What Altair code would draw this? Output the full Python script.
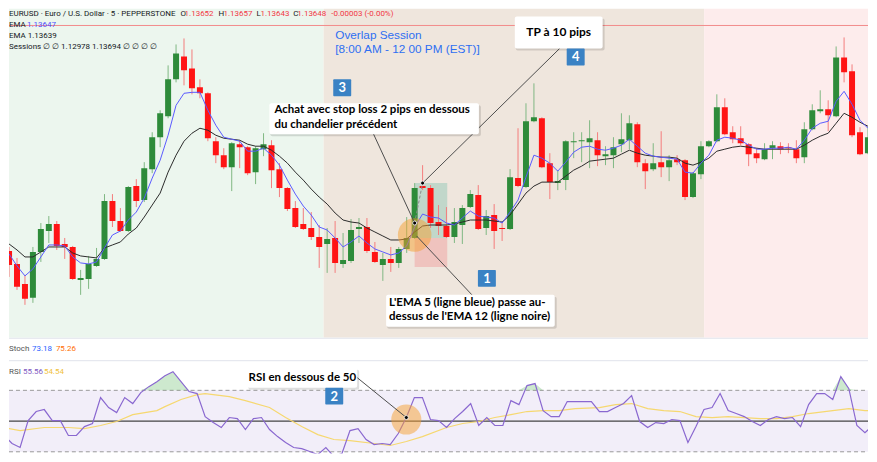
import altair as alt
import pandas as pd

# ---------------- data (EURUSD 5 min) ----------------
open_ = [1.13498, 1.13472, 1.13432, 1.13404, 1.13496, 1.13538, 1.13552, 1.13512, 1.13506, 1.13440,
         1.13442, 1.13468, 1.13482, 1.13598, 1.13558, 1.13538, 1.13628, 1.13600, 1.13662, 1.13726,
         1.13768, 1.13842, 1.13888, 1.13864, 1.13826, 1.13814, 1.13718, 1.13690, 1.13666, 1.13712,
         1.13706, 1.13656, 1.13702, 1.13710, 1.13662, 1.13624, 1.13584, 1.13552, 1.13544, 1.13526,
         1.13512, 1.13524, 1.13472, 1.13478, 1.13542, 1.13546, 1.13496, 1.13470, 1.13482, 1.13474,
         1.13502, 1.13524, 1.13628, 1.13624, 1.13556, 1.13548, 1.13526, 1.13550, 1.13586, 1.13610,
         1.13544, 1.13570, 1.13544, 1.13542, 1.13644, 1.13626, 1.13758, 1.13764, 1.13674, 1.13634,
         1.13640, 1.13716, 1.13718, 1.13716, 1.13720, 1.13688, 1.13690, 1.13712, 1.13720, 1.13752,
         1.13674, 1.13662, 1.13676, 1.13666, 1.13682, 1.13680, 1.13606, 1.13652, 1.13708, 1.13718,
         1.13786, 1.13736, 1.13724, 1.13712, 1.13694, 1.13682, 1.13704, 1.13708, 1.13706, 1.13702,
         1.13686, 1.13742, 1.13778, 1.13782, 1.13768, 1.13886, 1.13858, 1.13736, 1.13694]
high = [1.13506, 1.13484, 1.13450, 1.13506, 1.13554, 1.13568, 1.13558, 1.13524, 1.13508, 1.13460,
        1.13488, 1.13504, 1.13612, 1.13612, 1.13584, 1.13628, 1.13642, 1.13676, 1.13736, 1.13780,
        1.13870, 1.13912, 1.13924, 1.13902, 1.13842, 1.13816, 1.13726, 1.13704, 1.13716, 1.13720,
        1.13708, 1.13708, 1.13734, 1.13720, 1.13674, 1.13626, 1.13598, 1.13584, 1.13576, 1.13550,
        1.13544, 1.13558, 1.13534, 1.13562, 1.13564, 1.13564, 1.13516, 1.13494, 1.13506, 1.13506,
        1.13566, 1.13634, 1.13670, 1.13630, 1.13590, 1.13586, 1.13584, 1.13590, 1.13620, 1.13630,
        1.13580, 1.13592, 1.13556, 1.13662, 1.13744, 1.13794, 1.13834, 1.13766, 1.13694, 1.13660,
        1.13720, 1.13736, 1.13736, 1.13760, 1.13736, 1.13708, 1.13726, 1.13774, 1.13770, 1.13756,
        1.13682, 1.13714, 1.13738, 1.13690, 1.13690, 1.13682, 1.13656, 1.13718, 1.13720, 1.13812,
        1.13804, 1.13748, 1.13748, 1.13714, 1.13704, 1.13714, 1.13718, 1.13716, 1.13714, 1.13720,
        1.13756, 1.13792, 1.13820, 1.13800, 1.13908, 1.13926, 1.13872, 1.13746, 1.13746]
low = [1.13446, 1.13420, 1.13390, 1.13394, 1.13476, 1.13514, 1.13500, 1.13482, 1.13440, 1.13410,
       1.13422, 1.13466, 1.13480, 1.13546, 1.13536, 1.13536, 1.13586, 1.13596, 1.13654, 1.13706,
       1.13764, 1.13836, 1.13830, 1.13812, 1.13804, 1.13718, 1.13674, 1.13662, 1.13618, 1.13664,
       1.13650, 1.13632, 1.13688, 1.13624, 1.13606, 1.13578, 1.13544, 1.13540, 1.13520, 1.13464,
       1.13454, 1.13454, 1.13464, 1.13474, 1.13514, 1.13494, 1.13474, 1.13438, 1.13456, 1.13464,
       1.13494, 1.13522, 1.13620, 1.13544, 1.13530, 1.13524, 1.13514, 1.13512, 1.13584, 1.13540,
       1.13530, 1.13502, 1.13518, 1.13540, 1.13626, 1.13624, 1.13756, 1.13664, 1.13602, 1.13620,
       1.13620, 1.13684, 1.13676, 1.13664, 1.13668, 1.13670, 1.13664, 1.13696, 1.13702, 1.13666,
       1.13622, 1.13658, 1.13646, 1.13638, 1.13670, 1.13600, 1.13604, 1.13642, 1.13706, 1.13716,
       1.13730, 1.13714, 1.13710, 1.13668, 1.13674, 1.13680, 1.13682, 1.13692, 1.13694, 1.13674,
       1.13674, 1.13740, 1.13774, 1.13738, 1.13766, 1.13836, 1.13726, 1.13690, 1.13692]
close = [1.13470, 1.13426, 1.13402, 1.13496, 1.13542, 1.13552, 1.13508, 1.13506, 1.13442, 1.13444,
         1.13472, 1.13482, 1.13598, 1.13558, 1.13538, 1.13626, 1.13598, 1.13664, 1.13726, 1.13774,
         1.13842, 1.13894, 1.13860, 1.13824, 1.13814, 1.13724, 1.13690, 1.13666, 1.13714, 1.13706,
         1.13654, 1.13704, 1.13712, 1.13660, 1.13624, 1.13582, 1.13546, 1.13542, 1.13526, 1.13506,
         1.13522, 1.13474, 1.13480, 1.13540, 1.13546, 1.13498, 1.13476, 1.13482, 1.13474, 1.13502,
         1.13524, 1.13624, 1.13624, 1.13554, 1.13548, 1.13526, 1.13556, 1.13584, 1.13612, 1.13542,
         1.13568, 1.13538, 1.13542, 1.13646, 1.13628, 1.13758, 1.13766, 1.13666, 1.13636, 1.13638,
         1.13718, 1.13718, 1.13720, 1.13724, 1.13690, 1.13692, 1.13706, 1.13722, 1.13754, 1.13676,
         1.13658, 1.13674, 1.13666, 1.13680, 1.13676, 1.13606, 1.13654, 1.13708, 1.13718, 1.13786,
         1.13732, 1.13722, 1.13714, 1.13692, 1.13684, 1.13702, 1.13710, 1.13702, 1.13704, 1.13684,
         1.13742, 1.13780, 1.13782, 1.13770, 1.13886, 1.13856, 1.13730, 1.13692, 1.13726]
ema5 = [1.13492, 1.13468, 1.13448, 1.13462, 1.13486, 1.13510, 1.13510, 1.13508, 1.13486, 1.13474,
        1.13472, 1.13476, 1.13504, 1.13530, 1.13538, 1.13560, 1.13576, 1.13604, 1.13644, 1.13680,
        1.13730, 1.13790, 1.13814, 1.13816, 1.13816, 1.13780, 1.13750, 1.13726, 1.13722, 1.13718,
        1.13698, 1.13698, 1.13704, 1.13690, 1.13670, 1.13640, 1.13612, 1.13588, 1.13570, 1.13546,
        1.13540, 1.13524, 1.13506, 1.13516, 1.13528, 1.13514, 1.13502, 1.13496, 1.13490, 1.13494,
        1.13508, 1.13546, 1.13572, 1.13566, 1.13564, 1.13554, 1.13550, 1.13564, 1.13578, 1.13568,
        1.13566, 1.13564, 1.13554, 1.13576, 1.13600, 1.13646, 1.13690, 1.13684, 1.13674, 1.13658,
        1.13676, 1.13696, 1.13706, 1.13708, 1.13702, 1.13700, 1.13704, 1.13710, 1.13722, 1.13708,
        1.13694, 1.13688, 1.13686, 1.13684, 1.13682, 1.13656, 1.13654, 1.13674, 1.13690, 1.13720,
        1.13726, 1.13724, 1.13720, 1.13710, 1.13702, 1.13702, 1.13704, 1.13704, 1.13706, 1.13702,
        1.13720, 1.13744, 1.13754, 1.13758, 1.13798, 1.13818, 1.13792, 1.13760, 1.13744]
ema12 = [1.13512, 1.13500, 1.13486, 1.13486, 1.13496, 1.13506, 1.13506, 1.13506, 1.13494, 1.13488,
         1.13486, 1.13484, 1.13504, 1.13510, 1.13516, 1.13532, 1.13544, 1.13566, 1.13590, 1.13614,
         1.13656, 1.13690, 1.13718, 1.13734, 1.13744, 1.13740, 1.13730, 1.13724, 1.13722, 1.13720,
         1.13712, 1.13708, 1.13708, 1.13700, 1.13688, 1.13674, 1.13656, 1.13640, 1.13622, 1.13606,
         1.13592, 1.13574, 1.13560, 1.13556, 1.13554, 1.13544, 1.13536, 1.13528, 1.13520, 1.13520,
         1.13522, 1.13536, 1.13548, 1.13550, 1.13550, 1.13550, 1.13552, 1.13556, 1.13560, 1.13560,
         1.13560, 1.13558, 1.13556, 1.13570, 1.13592, 1.13614, 1.13628, 1.13636, 1.13636, 1.13636,
         1.13648, 1.13660, 1.13668, 1.13678, 1.13680, 1.13682, 1.13684, 1.13692, 1.13700, 1.13694,
         1.13690, 1.13688, 1.13686, 1.13686, 1.13684, 1.13674, 1.13670, 1.13676, 1.13684, 1.13698,
         1.13702, 1.13706, 1.13708, 1.13706, 1.13704, 1.13702, 1.13702, 1.13702, 1.13702, 1.13702,
         1.13710, 1.13720, 1.13728, 1.13734, 1.13754, 1.13774, 1.13766, 1.13756, 1.13748]
rsi = [40.6, 35.4, 32.8, 50.3, 56.2, 57.5, 50.3, 50.3, 40.6, 40.6,
       46.4, 48.4, 65.3, 58.8, 55.5, 65.3, 61.4, 68.5, 72.4, 75.6,
       79.5, 82.1, 75.6, 69.2, 67.9, 52.9, 49.0, 45.8, 52.3, 51.6,
       44.5, 51.6, 52.3, 44.5, 39.9, 36.0, 32.8, 32.1, 30.2, 28.2,
       32.8, 26.9, 28.9, 43.8, 45.1, 38.0, 34.7, 35.4, 34.7, 41.9,
       52.3, 65.3, 65.3, 51.0, 50.3, 45.8, 51.6, 56.2, 61.4, 47.1,
       52.3, 47.1, 47.1, 63.3, 60.7, 73.1, 74.4, 56.8, 52.9, 52.9,
       62.7, 62.7, 62.7, 62.7, 56.2, 56.2, 58.8, 61.4, 66.6, 49.7,
       45.8, 49.0, 48.4, 51.0, 50.3, 36.0, 46.4, 57.5, 58.8, 67.9,
       56.8, 54.9, 52.9, 49.7, 47.1, 51.0, 52.9, 51.6, 52.3, 46.4,
       60.7, 67.9, 67.9, 64.0, 78.9, 71.1, 47.1, 42.5, 47.1]
rsi_ma_bar = [0, 2, 5, 8, 10, 12, 14, 16, 19, 20, 22, 24, 25, 28, 30, 33, 35, 37, 39, 41,
              43, 46, 48, 50, 52, 55, 57, 59, 61, 63, 65, 67, 69, 71, 74, 76, 78, 80, 82, 84,
              86, 88, 90, 92, 94, 96, 98, 100, 102, 105, 107, 108]
rsi_ma = [45.8, 43.8, 45.8, 45.8, 45.1, 47.1, 49.7, 54.2, 56.8, 59.4, 64.0, 67.2, 67.9, 65.9, 63.3,
          58.8, 52.3, 46.4, 41.2, 38.0, 37.3, 35.4, 34.1, 36.7, 39.9, 45.8, 48.4, 49.7, 52.3, 54.2,
          56.2, 56.8, 56.8, 58.1, 58.8, 60.7, 61.4, 58.1, 56.8, 56.2, 52.9, 52.3, 52.9, 52.3, 51.6,
          51.6, 52.9, 54.9, 56.2, 58.1, 56.8, 56.8]

session_names = ["Londres", "Overlap", "New York"]
session_start = [-1.0, 39.55, 87.41]
session_end = [39.55, 87.41, 110.0]

price_line = [1.13950]
entry_bar, exit_bar = [51.0], [55.1]
entry_price, tp_price, sl_price = [1.13524], [1.13634], [1.13466]
buy_bar, buy_price = [51.0], [1.13554]
tp_bar, tp_hit = [52.0], [1.13634]
cross_bar, cross_price = [51.25], [1.13528]
rsi_bar, rsi_dot, rsi_circle = [50.0], [52.3], [51.0]
rsi_levels = [70, 50, 30]

# ---------------- layout ----------------
W, H1, H2 = 861, 330, 116
xs = alt.Scale(domain=[0.62, 107.38], nice=False, zero=False)
ps = alt.Scale(domain=[1.13324, 1.13984], nice=False, zero=False)
rs = alt.Scale(domain=[28.90, 104.22], nice=False, zero=False)
one = pd.DataFrame({"k": [0]})


def X(f):
    return alt.X(f, type="quantitative", scale=xs, axis=None)


def P(f):
    return alt.Y(f, type="quantitative", scale=ps, axis=None)


def R(f):
    return alt.Y(f, type="quantitative", scale=rs, axis=None)


def box(x0, x1, y0, y1, color="white", radius=2, shadow=True):
    layers = []
    if shadow:
        layers.append(alt.Chart(one).mark_rect(color="#000000", opacity=0.13, cornerRadius=radius).encode(
            x=alt.value(x0 + 1), x2=alt.value(x1 + 2), y=alt.value(y0 + 2), y2=alt.value(y1 + 2)))
    layers.append(alt.Chart(one).mark_rect(color=color, cornerRadius=radius).encode(
        x=alt.value(x0), x2=alt.value(x1), y=alt.value(y0), y2=alt.value(y1)))
    return layers


def txt(x, y, s, color="#131722", size=8, font="Roboto", weight="normal", align="left"):
    return alt.Chart(one).mark_text(text=s, color=color, fontSize=size, font=font, fontWeight=weight,
                                    align=align, baseline="middle").encode(x=alt.value(x), y=alt.value(y))


def num_box(x0, y0, label, size=13):
    return box(x0, x0 + 18, y0, y0 + 17, color="#3a82c4", radius=1, shadow=False) + [
        txt(x0 + 9, y0 + 9, label, color="white", size=size, font="Lato", weight="bold", align="center")]


df = pd.DataFrame({"i": list(range(len(open_))), "open": open_, "high": high, "low": low,
                   "close": close, "ema5": ema5, "ema12": ema12})
up = "datum.close >= datum.open"

sessions = pd.DataFrame({"name": session_names, "start": session_start, "end": session_end})
bg = alt.Chart(sessions).mark_rect(clip=True).encode(
    x=X("start"), x2="end", y=alt.value(0), y2=alt.value(H1),
    color=alt.Color("name:N", scale=alt.Scale(domain=session_names,
                                              range=["#ecf6ee", "#efe6dd", "#fdecec"]), legend=None))

pline = alt.Chart(pd.DataFrame({"p": price_line})).mark_rule(color="#f28b8b", strokeWidth=1).encode(
    y=P("p"), x=alt.value(0), x2=alt.value(W))

pos = pd.DataFrame({"a": entry_bar, "b": exit_bar, "tp": tp_price, "en": entry_price, "sl": sl_price})
pos_tp = alt.Chart(pos).mark_rect(color="#089981", opacity=0.2).encode(x=X("a"), x2="b", y=P("tp"), y2="en")
pos_sl = alt.Chart(pos).mark_rect(color="#f23645", opacity=0.2).encode(x=X("a"), x2="b", y=P("en"), y2="sl")

base = alt.Chart(df).encode(x=X("i"))
wick = base.mark_rule(clip=True, strokeWidth=1).encode(
    y=P("low"), y2="high", color=alt.condition(up, alt.value("#7fb883"), alt.value("#f47c7c")))
body = base.mark_bar(width=6, clip=True).encode(
    y=P("open"), y2="close", color=alt.condition(up, alt.value("#2e8b3a"), alt.value("#ff1414")))
l12 = base.mark_line(clip=True, color="#2b2b2b", strokeWidth=1).encode(y=P("ema12"))
l5 = base.mark_line(clip=True, color="#5a5aff", strokeWidth=1).encode(y=P("ema5"))

trade = pd.DataFrame({"i": buy_bar + tp_bar, "p": buy_price + tp_hit})
dash = alt.Chart(trade).mark_line(color="#8a8a8a", strokeDash=[3, 2], strokeWidth=1).encode(x=X("i"), y=P("p"))

circ = alt.Chart(pd.DataFrame({"i": buy_bar, "p": [1.13530]})).mark_circle(
    size=1134, color="#f5a030", opacity=0.5).encode(x=X("i"), y=P("p"))


def connector(bar, price, px, py, yfun=P):
    return alt.Chart(pd.DataFrame({"i": bar, "p": price})).mark_rule(color="#4d4d4d", strokeWidth=1).encode(
        x=X("i"), y=yfun("p"), x2=alt.value(px), y2=alt.value(py))


c_buy = connector(buy_bar, buy_price, 365, 125)
c_tp = connector(tp_bar, tp_hit, 552, 40)
c_cross = connector(cross_bar, cross_price, 464, 287)
dots = alt.Chart(trade).mark_circle(size=16, color="black", opacity=1, stroke="white", strokeWidth=0.8).encode(
    x=X("i"), y=P("p"))

red = "#f23645"
header = [
    txt(0, 5.5, "EURUSD · Euro / U.S. Dollar · 5 · PEPPERSTONE"),
    txt(172, 5.5, "O"), txt(176, 5.5, "1.13652", color=red),
    txt(210, 5.5, "H"), txt(215, 5.5, "1.13657", color=red),
    txt(248, 5.5, "L"), txt(252, 5.5, "1.13643", color=red),
    txt(285, 5.5, "C"), txt(289, 5.5, "1.13648", color=red),
    txt(323, 5.5, "-0.00003 (-0.00%)", color=red),
    txt(0, 17, "EMA"), txt(18, 17, "1.13647", color="#4f4fff"),
    txt(0, 28, "EMA 1.13639"),
    txt(0, 39, "Sessions ∅ ∅ 1.12978 1.13694 ∅ ∅ ∅ ∅"),
    txt(327, 27, "Overlap Session", color="#2e6ff2", size=11.8, font="Liberation Sans"),
    txt(327, 40.8, "[8:00 AM - 12 00 PM (EST)]", color="#2e6ff2", size=11.8, font="Liberation Sans"),
]

ann = []
ann += box(507, 595, 8, 40)
ann.append(txt(551, 24, "TP à 10 pips", color="black", size=12, font="Lato", weight="bold", align="center"))
ann += num_box(559, 40, "4")
ann += num_box(325, 71, "3")
ann += box(261, 471, 95, 126)
ann.append(txt(266, 102, "Achat avec stop loss 2 pips en dessous", color="black", size=11.5, font="Lato", weight="bold"))
ann.append(txt(266, 117, "du chandelier précédent", color="black", size=11.5, font="Lato", weight="bold"))
ann += num_box(470, 262, "1")
ann += box(378, 547, 287, 319)
ann.append(txt(381, 295, "L'EMA 5 (ligne bleue) passe au-", color="black", size=11.5, font="Lato", weight="bold"))
ann.append(txt(381, 309, "dessus de l'EMA 12 (ligne noire)", color="black", size=11.5, font="Lato", weight="bold"))

top = alt.layer(bg, pline, pos_tp, pos_sl, wick, body, l12, l5, dash, circ,
                c_buy, c_tp, c_cross, dots, *header, *ann).properties(width=W, height=H1)

# ---------------- RSI pane ----------------
rdf = pd.DataFrame({"i": list(range(len(rsi))), "rsi": rsi})
mdf = pd.DataFrame({"i": rsi_ma_bar, "ma": rsi_ma})
band = alt.Chart(pd.DataFrame({"hi": [rsi_levels[0]], "lo": [rsi_levels[2]]})).mark_rect(
    color="#7e57c2", opacity=0.1).encode(y=R("hi"), y2="lo", x=alt.value(0), x2=alt.value(W))
dashed = alt.Chart(pd.DataFrame({"lvl": [rsi_levels[0], rsi_levels[2]]})).mark_rule(
    color="#9a9a9a", strokeDash=[4, 3], strokeWidth=1).encode(y=R("lvl"), x=alt.value(0), x2=alt.value(W))
mid = alt.Chart(pd.DataFrame({"lvl": [rsi_levels[1]]})).mark_rule(color="#444444", strokeWidth=1.3).encode(
    y=R("lvl"), x=alt.value(0), x2=alt.value(W))
ob = alt.Chart(rdf).transform_calculate(top="max(datum.rsi, 70)", lvl="70").mark_area(
    color="#4caf50", opacity=0.28, clip=True).encode(x=X("i"), y=R("top"), y2="lvl:Q")
rline = alt.Chart(rdf).mark_line(color="#8a68d0", strokeWidth=1.2, clip=True).encode(x=X("i"), y=R("rsi"))
maline = alt.Chart(mdf).mark_line(color="#f6d870", strokeWidth=1.2, clip=True).encode(x=X("i"), y=R("ma"))
rcirc = alt.Chart(pd.DataFrame({"i": rsi_bar, "p": rsi_circle})).mark_circle(
    size=908, color="#f5a030", opacity=0.5).encode(x=X("i"), y=R("p"))
rconn = connector(rsi_bar, rsi_dot, 349, 40, yfun=R)
rdot = alt.Chart(pd.DataFrame({"i": rsi_bar, "p": rsi_dot})).mark_circle(
    size=16, color="black", opacity=1, stroke="white", strokeWidth=0.8).encode(x=X("i"), y=R("p"))
sep = [
    alt.Chart(one).mark_rule(color="#e0e3eb").encode(x=alt.value(0), x2=alt.value(W), y=alt.value(0.5)),
    alt.Chart(one).mark_rule(color="#e0e3eb").encode(x=alt.value(0), x2=alt.value(W), y=alt.value(23)),
]
labels = [
    txt(0, 11, "Stoch", color="#555555"), txt(23, 11, "73.18", color="#2962ff"), txt(47, 11, "75.26", color="#ff6d00"),
    txt(0, 34, "RSI", color="#555555"), txt(14, 34, "55.56", color="#7e57c2"), txt(35, 34, "54.54", color="#f0c23c"),
]
rann = box(239, 349, 30, 50) + [
    txt(294, 40, "RSI en dessous de 50", color="black", size=11.5, font="Lato", weight="bold", align="center")]
rann += num_box(317, 50, "2")

bottom = alt.layer(*sep, band, dashed, mid, ob, maline, rline, rcirc, rconn, rdot,
                   *labels, *rann).properties(width=W, height=H2)

chart = alt.vconcat(top, bottom, spacing=0).properties(padding=0).configure_view(stroke=None)
chart.save("out.html", embed_options={"renderer": "svg", "actions": False})
